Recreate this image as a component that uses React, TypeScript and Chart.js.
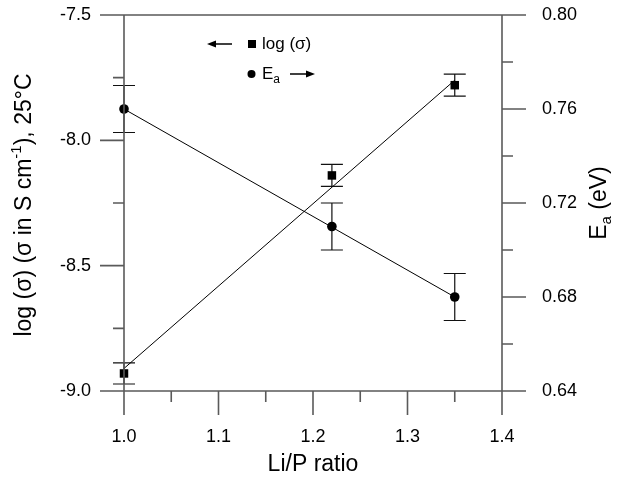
import React, { useEffect, useRef } from "react";
import { Chart, registerables } from "chart.js";

Chart.register(...registerables);

// ---- data ----
const liPRatio = [1.0, 1.22, 1.35];
const logSigma = [-8.93, -8.14, -7.78];
const logSigmaError = [0.042, 0.044, 0.044];
const activationEnergy = [0.76, 0.71, 0.68];
const activationEnergyError = [0.01, 0.01, 0.01];
const fitRatio = [1.0, 1.35];
const logSigmaFit = [-8.91, -7.76];
const activationEnergyFit = [0.76, 0.68];

const xMajorTicks = [1.0, 1.1, 1.2, 1.3, 1.4];
const xMinorTicks = [1.05, 1.15, 1.25, 1.35];
const yLeftMajorTicks = [-9.0, -8.5, -8.0, -7.5];
const yLeftMinorTicks = [-8.75, -8.25, -7.75];
const yRightMajorTicks = [0.64, 0.68, 0.72, 0.76, 0.8];
const yRightMinorTicks = [0.66, 0.7, 0.74, 0.78];

const FONT = "'Liberation Sans', Arial, Helvetica, sans-serif";
const AXIS_COLOR = "#5a5a5a";

type Seg = { t: string; size: number; dy: number };

function drawRich(ctx: CanvasRenderingContext2D, segs: Seg[], cx: number, cy: number, rot: number) {
  ctx.save();
  ctx.translate(cx, cy);
  ctx.rotate(rot);
  ctx.fillStyle = "#000";
  ctx.textBaseline = "middle";
  ctx.textAlign = "left";
  let total = 0;
  const widths = segs.map((s) => {
    ctx.font = `${s.size}px ${FONT}`;
    const w = ctx.measureText(s.t).width;
    total += w;
    return w;
  });
  let x = -total / 2;
  segs.forEach((s, i) => {
    ctx.font = `${s.size}px ${FONT}`;
    ctx.fillText(s.t, x, s.dy);
    x += widths[i];
  });
  ctx.restore();
}

function arrow(ctx: CanvasRenderingContext2D, x1: number, x2: number, y: number) {
  const dir = x2 > x1 ? 1 : -1;
  ctx.save();
  ctx.strokeStyle = "#000";
  ctx.fillStyle = "#000";
  ctx.lineWidth = 1.5;
  ctx.beginPath();
  ctx.moveTo(x1, y);
  ctx.lineTo(x2 - dir * 6, y);
  ctx.stroke();
  ctx.beginPath();
  ctx.moveTo(x2, y);
  ctx.lineTo(x2 - dir * 9, y - 3.5);
  ctx.lineTo(x2 - dir * 9, y + 3.5);
  ctx.closePath();
  ctx.fill();
  ctx.restore();
}

const customPlugin = {
  id: "custom",
  beforeDatasetsDraw(chart: any) {
    const ctx: CanvasRenderingContext2D = chart.ctx;
    const xs = chart.scales.x;
    const yl = chart.scales.y;
    const yr = chart.scales.y1;
    ctx.save();
    ctx.strokeStyle = "#111";
    ctx.lineWidth = 1.2;
    const cap = 11;
    const bar = (xv: number, v: number, e: number, sc: any) => {
      const px = xs.getPixelForValue(xv);
      const top = sc.getPixelForValue(v + e);
      const bot = sc.getPixelForValue(v - e);
      ctx.beginPath();
      ctx.moveTo(px, top);
      ctx.lineTo(px, bot);
      ctx.moveTo(px - cap, top);
      ctx.lineTo(px + cap, top);
      ctx.moveTo(px - cap, bot);
      ctx.lineTo(px + cap, bot);
      ctx.stroke();
    };
    liPRatio.forEach((xv, i) => {
      bar(xv, logSigma[i], logSigmaError[i], yl);
      bar(xv, activationEnergy[i], activationEnergyError[i], yr);
    });
    ctx.restore();
  },
  afterDraw(chart: any) {
    const ctx: CanvasRenderingContext2D = chart.ctx;
    const ca = chart.chartArea;
    const xs = chart.scales.x;
    const yl = chart.scales.y;
    const yr = chart.scales.y1;
    const major = 24;
    const minor = 11;
    ctx.save();
    ctx.strokeStyle = AXIS_COLOR;
    ctx.lineWidth = 1.6;
    ctx.beginPath();
    ctx.moveTo(ca.left, ca.top);
    ctx.lineTo(ca.right, ca.top);
    ctx.moveTo(ca.left, ca.bottom);
    ctx.lineTo(ca.right, ca.bottom);
    ctx.moveTo(ca.left, ca.top);
    ctx.lineTo(ca.left, ca.bottom);
    ctx.moveTo(ca.right, ca.top);
    ctx.lineTo(ca.right, ca.bottom);
    xMajorTicks.forEach((v) => {
      const p = xs.getPixelForValue(v);
      ctx.moveTo(p, ca.bottom);
      ctx.lineTo(p, ca.bottom + major);
    });
    xMinorTicks.forEach((v) => {
      const p = xs.getPixelForValue(v);
      ctx.moveTo(p, ca.bottom);
      ctx.lineTo(p, ca.bottom + minor);
    });
    yLeftMajorTicks.forEach((v) => {
      const p = yl.getPixelForValue(v);
      ctx.moveTo(ca.left - major, p);
      ctx.lineTo(ca.left, p);
    });
    yLeftMinorTicks.forEach((v) => {
      const p = yl.getPixelForValue(v);
      ctx.moveTo(ca.left - minor, p);
      ctx.lineTo(ca.left, p);
    });
    yRightMajorTicks.forEach((v) => {
      const p = yr.getPixelForValue(v);
      ctx.moveTo(ca.right, p);
      ctx.lineTo(ca.right + major, p);
    });
    yRightMinorTicks.forEach((v) => {
      const p = yr.getPixelForValue(v);
      ctx.moveTo(ca.right, p);
      ctx.lineTo(ca.right + minor, p);
    });
    ctx.stroke();
    ctx.restore();

    // tick labels
    ctx.save();
    ctx.fillStyle = "#000";
    ctx.font = `18px ${FONT}`;
    ctx.textBaseline = "middle";
    ctx.textAlign = "center";
    xMajorTicks.forEach((v) => {
      ctx.fillText(v.toFixed(1), xs.getPixelForValue(v), ca.bottom + 46);
    });
    ctx.textAlign = "right";
    yLeftMajorTicks.forEach((v) => {
      ctx.fillText(v.toFixed(1), ca.left - 33, yl.getPixelForValue(v));
    });
    ctx.textAlign = "left";
    yRightMajorTicks.forEach((v) => {
      ctx.fillText(v.toFixed(2), ca.right + 40, yr.getPixelForValue(v));
    });
    ctx.restore();

    // axis titles
    const cy = (ca.top + ca.bottom) / 2;
    drawRich(
      ctx,
      [
        { t: "log (σ) (σ in S cm", size: 23, dy: 0 },
        { t: "-1", size: 15, dy: -8 },
        { t: "), 25°C", size: 23, dy: 0 },
      ],
      25,
      cy + 2,
      -Math.PI / 2
    );
    drawRich(
      ctx,
      [
        { t: "E", size: 23, dy: 0 },
        { t: "a", size: 15, dy: 7 },
        { t: " (eV)", size: 23, dy: 0 },
      ],
      600,
      cy,
      -Math.PI / 2
    );
    drawRich(ctx, [{ t: "Li/P ratio", size: 23, dy: 0 }], (ca.left + ca.right) / 2, 465, 0);

    // legend
    ctx.save();
    ctx.fillStyle = "#000";
    arrow(ctx, 232, 207, 44);
    ctx.fillRect(248, 40, 8, 8);
    ctx.font = `17px ${FONT}`;
    ctx.textBaseline = "middle";
    ctx.textAlign = "left";
    ctx.fillText("log (σ)", 262, 44);
    ctx.beginPath();
    ctx.arc(251.5, 74, 4, 0, Math.PI * 2);
    ctx.fill();
    ctx.fillText("E", 262, 74);
    const ew = ctx.measureText("E").width;
    ctx.font = `12px ${FONT}`;
    ctx.fillText("a", 262 + ew, 80);
    ctx.restore();
    arrow(ctx, 290, 315, 74);
  },
};

export default function App() {
  const ref = useRef<HTMLCanvasElement | null>(null);

  useEffect(() => {
    document.body.style.margin = "0";
    if (!ref.current) return;
    const chart = new Chart(ref.current, {
      type: "scatter",
      data: {
        datasets: [
          {
            label: "log σ fit",
            data: fitRatio.map((x, i) => ({ x, y: logSigmaFit[i] })),
            showLine: true,
            borderColor: "#000",
            borderWidth: 1,
            pointRadius: 0,
            yAxisID: "y",
            clip: false,
          },
          {
            label: "Ea fit",
            data: fitRatio.map((x, i) => ({ x, y: activationEnergyFit[i] })),
            showLine: true,
            borderColor: "#000",
            borderWidth: 1,
            pointRadius: 0,
            yAxisID: "y1",
            clip: false,
          },
          {
            label: "log (σ)",
            data: liPRatio.map((x, i) => ({ x, y: logSigma[i] })),
            pointStyle: "rect",
            pointRadius: 6,
            backgroundColor: "#000",
            borderColor: "#000",
            borderWidth: 0,
            yAxisID: "y",
            clip: false,
          },
          {
            label: "Ea",
            data: liPRatio.map((x, i) => ({ x, y: activationEnergy[i] })),
            pointStyle: "circle",
            pointRadius: 4.8,
            backgroundColor: "#000",
            borderColor: "#000",
            borderWidth: 0,
            yAxisID: "y1",
            clip: false,
          },
        ],
      },
      options: {
        animation: false,
        responsive: false,
        devicePixelRatio: 1,
        layout: { padding: { top: 15, left: 0, right: 0, bottom: 0 } },
        plugins: { legend: { display: false }, tooltip: { enabled: false } },
        scales: {
          x: {
            type: "linear",
            min: 1.0,
            max: 1.4,
            grid: { display: false, drawTicks: false },
            border: { display: false },
            ticks: { display: false, stepSize: 0.1, padding: 0 },
            afterFit: (s: any) => {
              s.height = 92;
            },
          },
          y: {
            type: "linear",
            position: "left",
            min: -9.0,
            max: -7.5,
            grid: { display: false, drawTicks: false },
            border: { display: false },
            ticks: { display: false, stepSize: 0.5, padding: 0 },
            afterFit: (s: any) => {
              s.width = 124;
            },
          },
          y1: {
            type: "linear",
            position: "right",
            min: 0.64,
            max: 0.8,
            grid: { display: false, drawTicks: false },
            border: { display: false },
            ticks: { display: false, stepSize: 0.04, padding: 0 },
            afterFit: (s: any) => {
              s.width = 123;
            },
          },
        },
      },
      plugins: [customPlugin],
    });
    return () => chart.destroy();
  }, []);

  return (
    <div style={{ width: 625, height: 483 }}>
      <canvas ref={ref} width={625} height={483} style={{ display: "block" }} />
    </div>
  );
}
